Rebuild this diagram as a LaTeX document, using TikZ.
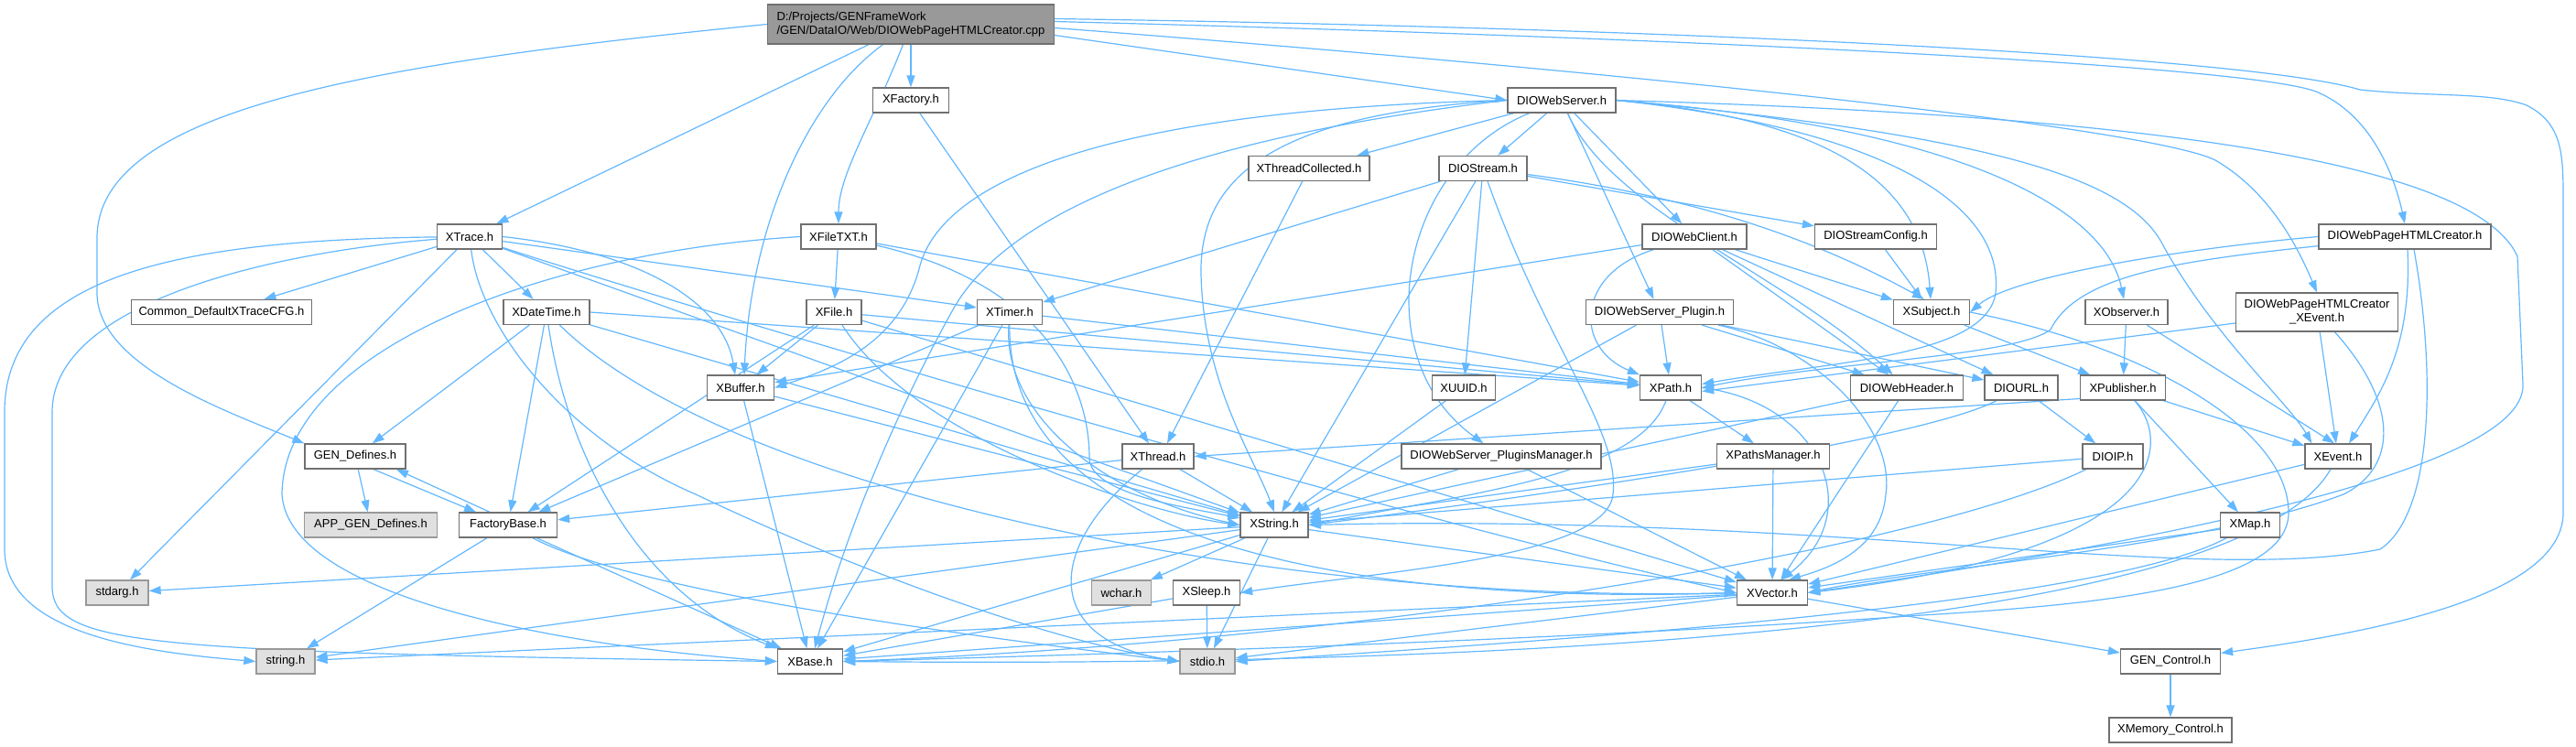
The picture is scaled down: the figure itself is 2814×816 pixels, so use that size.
\documentclass[tikz,border=0pt]{standalone}
\usepackage{fontspec}
\setmainfont{Liberation Sans}
\usetikzlibrary{arrows.meta}
\pgfdeclarelayer{background}
\pgfsetlayers{background,main}
\definecolor{edgec}{HTML}{63B8FF}
\definecolor{ndborder}{HTML}{707070}
\definecolor{extborder}{HTML}{999999}
\definecolor{extfill}{HTML}{E0E0E0}
\definecolor{rootfill}{HTML}{999999}
\begin{document}
\begin{tikzpicture}[x=1pt,y=-1pt,
  nd/.style={draw=ndborder, fill=white, line width=1.3pt, minimum height=27pt, inner sep=0pt, font=\fontsize{13}{15}\selectfont, text=black},
  ext/.style={nd, draw=extborder, fill=extfill},
  rt/.style={nd, fill=rootfill, draw=ndborder, align=left, minimum height=43pt},
  e/.style={draw=edgec, line width=1.2pt, -{Triangle[length=13pt,width=9pt]}}]
\useasboundingbox (0,0) rectangle (2814,816);
% nodes
\node[rt, minimum width=313pt] (root) at (995,26.5) {D:/Projects/GENFrameWork\\/GEN/DataIO/Web/DIOWebPageHTMLCreator.cpp};
\node[nd, minimum width=83pt] (XFactory) at (995,109.5) {XFactory.h};
\node[nd, minimum width=118pt] (DIOWebServer) at (1706,109.5) {DIOWebServer.h};
\node[nd, minimum width=132pt] (XThreadCollected) at (1430,184) {XThreadCollected.h};
\node[nd, minimum width=96pt] (DIOStream) at (1620,184) {DIOStream.h};
\node[nd, minimum width=71pt] (XTrace) at (513,258.5) {XTrace.h};
\node[nd, minimum width=82pt] (XFileTXT) at (916,258.5) {XFileTXT.h};
\node[nd, minimum width=114pt] (DIOWebClient) at (1851,258.5) {DIOWebClient.h};
\node[nd, minimum width=133pt] (DIOStreamConfig) at (2049,258.5) {DIOStreamConfig.h};
\node[nd, minimum width=188pt] (DIOWPHC) at (2627,258.5) {DIOWebPageHTMLCreator.h};
\node[nd, minimum width=197pt] (Common) at (242,341) {Common\_DefaultXTraceCFG.h};
\node[nd, minimum width=94pt] (XDateTime) at (597,341) {XDateTime.h};
\node[nd, minimum width=60pt] (XFile) at (911,341) {XFile.h};
\node[nd, minimum width=71pt] (XTimer) at (1103,341) {XTimer.h};
\node[nd, minimum width=161pt] (Plugin) at (1813,341) {DIOWebServer\_Plugin.h};
\node[nd, minimum width=83pt] (XSubject) at (2110,341) {XSubject.h};
\node[nd, minimum width=90pt] (XObserver) at (2323,341) {XObserver.h};
\node[nd, minimum width=177pt, minimum height=42pt, align=center] (DIOWPHCX) at (2531,341) {DIOWebPageHTMLCreator\\\_XEvent.h};
\node[nd, minimum width=73pt] (XBuffer) at (809,423.5) {XBuffer.h};
\node[nd, minimum width=69pt] (XUUID) at (1599,423.5) {XUUID.h};
\node[nd, minimum width=67pt] (XPath) at (1825,423.5) {XPath.h};
\node[nd, minimum width=123pt] (DIOWebHeader) at (2083,423.5) {DIOWebHeader.h};
\node[nd, minimum width=80pt] (DIOURL) at (2208,423.5) {DIOURL.h};
\node[nd, minimum width=93pt] (XPublisher) at (2319,423.5) {XPublisher.h};
\node[nd, minimum width=110pt] (GEN_Defines) at (388,498.5) {GEN\_Defines.h};
\node[nd, minimum width=78pt] (XThread) at (1265,498.5) {XThread.h};
\node[nd, minimum width=218pt] (PluginsManager) at (1640,498.5) {DIOWebServer\_PluginsManager.h};
\node[nd, minimum width=123pt] (XPathsManager) at (1937,498.5) {XPathsManager.h};
\node[nd, minimum width=66pt] (DIOIP) at (2308,498.5) {DIOIP.h};
\node[nd, minimum width=72pt] (XEvent) at (2554,498.5) {XEvent.h};
\node[ext, minimum width=145pt] (APP_GEN_Defines) at (405,573.5) {APP\_GEN\_Defines.h};
\node[nd, minimum width=107pt] (FactoryBase) at (555,573.5) {FactoryBase.h};
\node[nd, minimum width=74pt] (XString) at (1392,573.5) {XString.h};
\node[nd, minimum width=65pt] (XMap) at (2458,573.5) {XMap.h};
\node[ext, minimum width=68pt] (stdarg) at (128,647.5) {stdarg.h};
\node[ext, minimum width=65pt] (wchar) at (1225,647.5) {wchar.h};
\node[nd, minimum width=73pt] (XSleep) at (1318,647.5) {XSleep.h};
\node[nd, minimum width=77pt] (XVector) at (1936,647.5) {XVector.h};
\node[ext, minimum width=64pt] (string) at (312,722.5) {string.h};
\node[nd, minimum width=71pt] (XBase) at (885,722.5) {XBase.h};
\node[ext, minimum width=60pt] (stdio) at (1319,722.5) {stdio.h};
\node[nd, minimum width=109pt] (GEN_Control) at (2371,722.5) {GEN\_Control.h};
\node[nd, minimum width=134pt] (XMemory_Control) at (2371,797.5) {XMemory\_Control.h};
\begin{pgfonlayer}{background}
\fill[white] (0,0) rectangle (2814,816);
% root
\draw[e] (root) -- (XFactory);
\draw[e] (root) .. controls (955,130) and (916,190) .. (XFileTXT);
\draw[e] (root) -- (XTrace);
\draw[e] (root) .. controls (880,110) and (820,250) .. ([xshift=4pt]XBuffer.north);
\draw[e] (root.west) .. controls (400,70) and (106,120) .. (106,260) -- (106,320) .. controls (106,400) and (250,450) .. (GEN_Defines.north west);
\draw[e] ([yshift=-12pt]root.east) -- (DIOWebServer.west);
\draw[e] ([yshift=3pt]root.east) .. controls (1800,40) and (2450,70) .. (2530,100) .. controls (2590,125) and (2615,190) .. (DIOWPHC.north);
\draw[e] ([yshift=6pt]root.east) .. controls (1800,30) and (2450,60) .. (2578,98) .. controls (2650,106) and (2720,100) .. (2760,115) .. controls (2800,135) and (2800,170) .. (2800,220) -- (2800,560) .. controls (2800,650) and (2600,690) .. ([yshift=-5pt]GEN_Control.north east);
\draw[e] ([yshift=-4pt]root.east) .. controls (1800,80) and (2350,140) .. (2420,175) .. controls (2480,210) and (2510,270) .. (DIOWPHCX.north);
% XFactory
\draw[e] (XFactory) -- ([xshift=-10pt]XThread.north);
% DIOWebServer
\draw[e] (DIOWebServer) -- (XThreadCollected);
\draw[e] (DIOWebServer) -- (DIOStream);
\draw[e] (DIOWebServer) -- (DIOWebClient);
\draw[e] (DIOWebServer) -- (Plugin);
\draw[e] (DIOWebServer) .. controls (1530,180) and (1490,390) .. (PluginsManager);
\draw[e] (DIOWebServer) .. controls (1760,230) and (1950,300) .. (DIOWebHeader);
\draw[e] (DIOWebServer.east) .. controls (2000,130) and (2100,200) .. (XSubject);
\draw[e] (DIOWebServer.east) .. controls (2150,140) and (2300,230) .. (XObserver);
\draw[e] (DIOWebServer.east) .. controls (2200,150) and (2330,200) .. (2364,270) .. controls (2420,370) and (2500,440) .. ([xshift=8pt]XEvent.north west);
\draw[e] (DIOWebServer.east) .. controls (2050,140) and (2190,220) .. (2180,320) .. controls (2170,390) and (2000,395) .. ([yshift=4pt]XPath.east);
\draw[e] (DIOWebServer.west) .. controls (1380,125) and (1310,200) .. (1312,300) .. controls (1315,420) and (1370,500) .. (XString.north);
\draw[e] (DIOWebServer.west) .. controls (1200,120) and (1030,200) .. (1005,290) .. controls (985,370) and (920,400) .. (XBuffer.east);
\draw[e] (DIOWebServer.west) .. controls (1300,150) and (1100,230) .. (1040,340) .. controls (990,430) and (930,560) .. ([xshift=5pt]XBase.north);
\draw[e] (DIOWebServer.east) .. controls (2300,125) and (2700,170) .. (2750,280) -- (2756,420) .. controls (2760,520) and (2300,600) .. (XVector.east);
% DIOStream
\draw[e] (DIOStream) -- (XTimer);
\draw[e] (DIOStream) -- (XString);
\draw[e] (DIOStream) -- (XUUID);
\draw[e] (DIOStream) .. controls (1690,380) and (1770,470) .. (1762,540) .. controls (1755,610) and (1500,625) .. (XSleep.east);
\draw[e] (DIOStream) -- (DIOStreamConfig);
\draw[e] (DIOStream) .. controls (1850,215) and (1980,260) .. ([xshift=-8pt]XSubject.north);
\draw[e] (DIOStreamConfig) -- (XSubject);
% DIOWebClient
\draw[e] (DIOWebClient) -- (XBuffer);
\draw[e] (DIOWebClient) .. controls (1720,300) and (1720,380) .. (XPath.north west);
\draw[e] (DIOWebClient) -- (DIOWebHeader);
\draw[e] (DIOWebClient) -- (DIOURL);
\draw[e] (DIOWebClient) -- (XSubject);
% XTrace
\draw[e] (XTrace) -- (Common);
\draw[e] (XTrace) -- (XDateTime);
\draw[e] (XTrace) -- (XTimer);
\draw[e] (XTrace.east) .. controls (700,275) and (790,330) .. ([xshift=-6pt]XBuffer.north);
\draw[e] (XTrace) -- (stdarg);
\draw[e] (XTrace) .. controls (200,262) and (5,300) .. (5,450) -- (5,600) .. controls (5,690) and (150,712) .. (string.west);
\draw[e] (XTrace) .. controls (300,275) and (57,330) .. (57,450) -- (57,640) .. controls (57,705) and (150,712) .. (XBase.west);
\draw[e] (XTrace) .. controls (525,360) and (620,480) .. (760,540) .. controls (950,630) and (1150,700) .. (stdio.west);
\draw[e] (XTrace) -- (XString);
\draw[e] (XTrace) .. controls (700,320) and (1500,560) .. (XVector.west);
% XFileTXT
\draw[e] (XFileTXT) -- (XFile);
\draw[e] (XFileTXT) -- (XPath);
\draw[e] (XFileTXT) .. controls (1140,310) and (1190,420) .. (1190,500) .. controls (1190,540) and (1300,555) .. (XString);
\draw[e] (XFileTXT.west) .. controls (600,275) and (310,380) .. (308,540) .. controls (315,650) and (600,705) .. (XBase.west);
% XDateTime
\draw[e] (XDateTime) -- (FactoryBase);
\draw[e] (XDateTime) -- (GEN_Defines);
\draw[e] (XDateTime.east) -- (XPath);
\draw[e] (XDateTime) -- (XString);
\draw[e] (XDateTime) .. controls (800,540) and (1400,660) .. (XVector.west);
\draw[e] (XDateTime) .. controls (620,500) and (700,650) .. (XBase);
% XFile
\draw[e] (XFile) -- (XBuffer);
\draw[e] (XFile) -- (XPath);
\draw[e] (XFile) -- (FactoryBase);
\draw[e] (XFile) .. controls (1000,480) and (1250,560) .. (XString.west);
\draw[e] (XFile) -- (XVector);
% XTimer
\draw[e] (XTimer) -- (XPath);
\draw[e] (XTimer) -- (FactoryBase);
\draw[e] (XTimer) -- (XBase);
\draw[e] (XTimer) .. controls (1095,450) and (1200,540) .. (XString.west);
\draw[e] (XTimer) .. controls (1100,600) and (1500,660) .. (XVector.west);
% XBuffer
\draw[e] (XBuffer) -- (XBase);
\draw[e] (XBuffer) -- (XString);
% XThread
\draw[e] (XThread) -- (FactoryBase);
\draw[e] (XThread) -- (XString);
\draw[e] (XThread) .. controls (1140,600) and (1140,700) .. (stdio.west);
\draw[e] (XThreadCollected) -- ([xshift=10pt]XThread.north);
% GEN_Defines / FactoryBase
\draw[e] (GEN_Defines) -- (APP_GEN_Defines);
\draw[e] ([xshift=20pt]GEN_Defines.south) -- ([xshift=-35pt]FactoryBase.north);
\draw[e] ([xshift=-20pt]FactoryBase.north) -- ([xshift=45pt]GEN_Defines.south);
\draw[e] (FactoryBase) -- (string);
\draw[e] (FactoryBase) -- (XBase);
\draw[e] (FactoryBase) .. controls (700,650) and (1100,700) .. (stdio.west);
% XString
\draw[e] (XString) -- (stdarg);
\draw[e] (XString) -- (string);
\draw[e] (XString) -- (wchar);
\draw[e] (XString) -- (XBase);
\draw[e] (XString) -- (stdio);
\draw[e] (XString) -- (XVector);
% XSleep
\draw[e] (XSleep) -- (XBase);
\draw[e] (XSleep) -- (stdio);
% XVector
\draw[e] (XVector) -- (XBase);
\draw[e] (XVector) -- (stdio);
\draw[e] (XVector) -- (string);
\draw[e] (XVector) -- (GEN_Control);
\draw[e] (GEN_Control) -- (XMemory_Control);
% misc
\draw[e] (XUUID) -- (XString);
\draw[e] (XPath) -- (XPathsManager);
\draw[e] (XPath) .. controls (1790,520) and (1600,540) .. (XString.east);
\draw[e] (XPath.east) .. controls (1990,440) and (2040,560) .. ([xshift=10pt]XVector.north);
\draw[e] (XPathsManager) -- (XString);
\draw[e] (XPathsManager) -- (XVector);
\draw[e] (Plugin) -- (XPath);
\draw[e] (Plugin) -- (XString);
\draw[e] (Plugin) -- (DIOWebHeader);
\draw[e] (Plugin) -- (DIOURL);
\draw[e] (Plugin) .. controls (1990,380) and (2070,470) .. (2060,540) .. controls (2055,600) and (2000,620) .. ([xshift=18pt]XVector.north);
\draw[e] (PluginsManager) -- (XString);
\draw[e] (PluginsManager) -- (XVector);
\draw[e] (DIOWebHeader) -- (XString);
\draw[e] (DIOWebHeader) -- (XVector);
\draw[e] (DIOURL) -- (DIOIP);
\draw[e] (DIOURL) .. controls (2100,480) and (1700,540) .. (XString.east);
\draw[e] (DIOIP) -- (XString);
\draw[e] (DIOIP) .. controls (2100,600) and (1500,700) .. (XBase.east);
\draw[e] (XSubject) -- (XPublisher);
\draw[e] (XSubject.east) .. controls (2350,380) and (2500,470) .. (2500,560) .. controls (2500,640) and (2300,660) .. (2100,672) .. controls (1700,700) and (1200,715) .. (XBase.east);
\draw[e] (XObserver) -- (XPublisher);
\draw[e] (XObserver) -- ([xshift=-4pt]XEvent.north);
\draw[e] (XPublisher) -- (XEvent);
\draw[e] (XPublisher) -- (XMap);
\draw[e] (XPublisher) .. controls (2370,480) and (2380,600) .. (XVector.east);
\draw[e] ([yshift=-12pt]XPublisher.west) -- (XThread.east);
\draw[e] (XEvent) -- (XVector);
\draw[e] (XEvent) .. controls (2450,680) and (1700,730) .. (XBase.east);
\draw[e] (XMap) -- (XVector);
\draw[e] (XMap) .. controls (2300,660) and (1700,700) .. (stdio.east);
\draw[e] (DIOWPHC.west) .. controls (2400,270) and (2200,300) .. (XSubject.east);
\draw[e] (DIOWPHC) .. controls (2380,285) and (2270,300) .. (2240,360) .. controls (2200,390) and (2000,395) .. (XPath.east);
\draw[e] ([xshift=3pt]DIOWPHC.south) .. controls (2635,380) and (2600,430) .. ([xshift=12pt]XEvent.north);
\draw[e] ([xshift=10pt]DIOWPHC.south) .. controls (2660,400) and (2660,560) .. (2600,600) .. controls (2400,640) and (2000,560) .. (XString.east);
\draw[e] (DIOWPHCX) -- (XEvent);
\draw[e] ([yshift=-12pt]DIOWPHCX.west) -- ([yshift=-4pt]XPath.east);
\draw[e] (DIOWPHCX) .. controls (2620,440) and (2620,510) .. (2560,540) .. controls (2400,600) and (2100,620) .. (XVector.east);
\end{pgfonlayer}
\end{tikzpicture}
\end{document}
